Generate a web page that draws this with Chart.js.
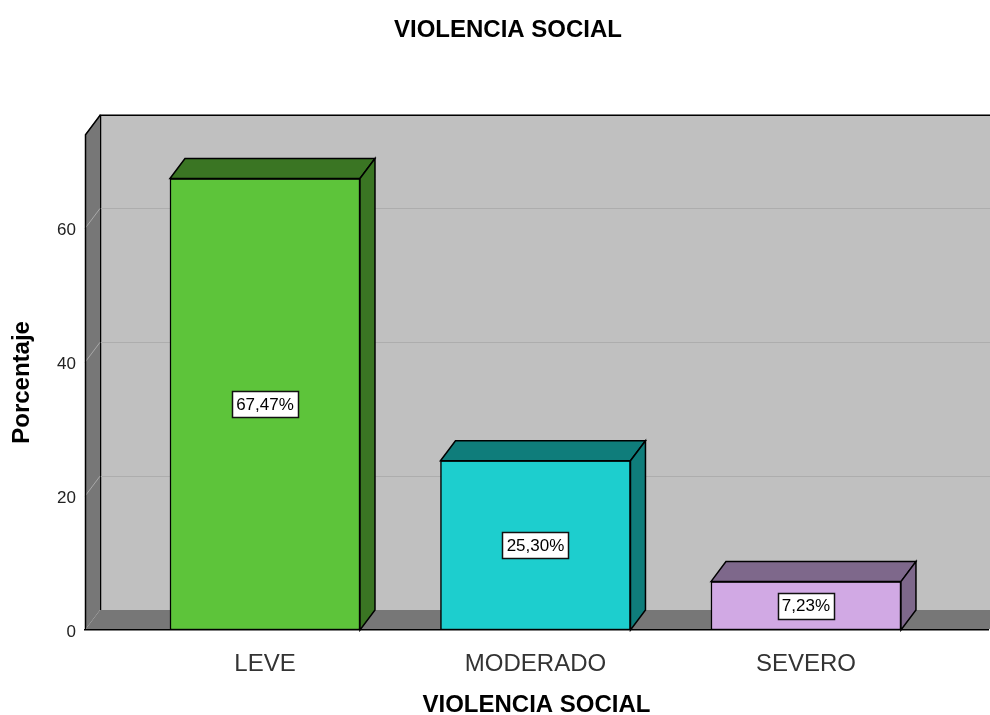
<!DOCTYPE html>
<html>
<head>
<meta charset="utf-8">
<script src="https://cdn.jsdelivr.net/npm/chart.js@4/dist/chart.umd.min.js"></script>
<style>
  html, body { margin: 0; padding: 0; background: #fff; }
  #wrap { width: 990px; height: 715px; }
</style>
</head>
<body>
<div id="wrap"><canvas id="myChart" width="990" height="715"></canvas></div>
<script>
const categories = ['LEVE', 'MODERADO', 'SEVERO'];
const percentages = [67.47, 25.30, 7.23];
const yTicks = [0, 20, 40, 60];

const frontColors = ['#5dc43a', '#1dcece', '#d1a9e4'];
const sideColors = ['#3a7523', '#0f7d7b', '#7e688b'];

// depth of the fake 3D box
const DX = 15, DY = -20;

function fmt(v) {
    return v.toFixed(2).replace('.', ',') + '%';
}

const box3d = {
    id: 'box3d',
    beforeDraw(chart) {
        const ctx = chart.ctx;
        const a = chart.chartArea;
        const y = chart.scales.y;
        ctx.save();
        ctx.fillStyle = '#fff';
        ctx.fillRect(0, 0, chart.width, chart.height);

        // back wall
        ctx.fillStyle = '#c0c0c0';
        ctx.fillRect(a.left + DX, a.top + DY, a.right - a.left + 20, a.bottom - a.top);
        ctx.strokeStyle = '#000';
        ctx.lineWidth = 1.5;
        ctx.beginPath();
        ctx.moveTo(a.left + DX + 0.5, a.bottom + DY);
        ctx.lineTo(a.left + DX + 0.5, a.top + DY + 0.5);
        ctx.lineTo(a.right + DX + 20, a.top + DY + 0.5);
        ctx.stroke();

        // grid lines
        ctx.lineWidth = 1;
        yTicks.forEach(t => {
            if (t === 0) return;
            const py = Math.round(y.getPixelForValue(t)) + 0.5;
            ctx.strokeStyle = '#adadad';
            ctx.beginPath();
            ctx.moveTo(a.left + DX + 1, py + DY);
            ctx.lineTo(a.right + DX + 20, py + DY);
            ctx.stroke();
        });

        // left wall
        ctx.fillStyle = '#777777';
        ctx.beginPath();
        ctx.moveTo(a.left, a.top);
        ctx.lineTo(a.left + DX, a.top + DY);
        ctx.lineTo(a.left + DX, a.bottom + DY);
        ctx.lineTo(a.left, a.bottom);
        ctx.closePath();
        ctx.fill();
        yTicks.forEach(t => {
            if (t === 0) return;
            const py = y.getPixelForValue(t);
            ctx.strokeStyle = '#a8a8a8';
            ctx.beginPath();
            ctx.moveTo(a.left, py);
            ctx.lineTo(a.left + DX, py + DY);
            ctx.stroke();
        });
        ctx.strokeStyle = '#000';
        ctx.lineWidth = 1.5;
        ctx.beginPath();
        ctx.moveTo(a.left + 0.5, a.bottom);
        ctx.lineTo(a.left + 0.5, a.top);
        ctx.lineTo(a.left + DX + 0.5, a.top + DY);
        ctx.stroke();

        // floor
        ctx.fillStyle = '#777777';
        ctx.beginPath();
        ctx.moveTo(a.left, a.bottom);
        ctx.lineTo(a.left + DX, a.bottom + DY);
        ctx.lineTo(a.right + DX + 20, a.bottom + DY);
        ctx.lineTo(a.right, a.bottom);
        ctx.closePath();
        ctx.fill();
        ctx.restore();
    },
    afterDatasetsDraw(chart) {
        const ctx = chart.ctx;
        const meta = chart.getDatasetMeta(0);
        ctx.save();
        meta.data.forEach((bar, i) => {
            const l = bar.x - bar.width / 2, r = bar.x + bar.width / 2;
            const t = bar.y, b = bar.base;
            ctx.lineWidth = 1.5;
            ctx.strokeStyle = '#000';
            ctx.fillStyle = sideColors[i];
            // top face
            ctx.beginPath();
            ctx.moveTo(l, t);
            ctx.lineTo(l + DX, t + DY);
            ctx.lineTo(r + DX, t + DY);
            ctx.lineTo(r, t);
            ctx.closePath();
            ctx.fill();
            ctx.stroke();
            // side face
            ctx.beginPath();
            ctx.moveTo(r, t);
            ctx.lineTo(r + DX, t + DY);
            ctx.lineTo(r + DX, b + DY);
            ctx.lineTo(r, b);
            ctx.closePath();
            ctx.fill();
            ctx.stroke();

            // value label
            const txt = fmt(percentages[i]);
            ctx.font = '17px "Liberation Sans", Arial, sans-serif';
            const w = Math.round(ctx.measureText(txt).width + 8);
            const h = 26;
            const cy = (t + b) / 2;
            const bx = Math.round(bar.x - w / 2) + 0.5, by = Math.round(cy - h / 2) + 0.5;
            ctx.fillStyle = '#fff';
            ctx.fillRect(bx, by, w, h);
            ctx.lineWidth = 1.5;
            ctx.strokeStyle = '#111';
            ctx.strokeRect(bx, by, w, h);
            ctx.fillStyle = '#000';
            ctx.textAlign = 'center';
            ctx.textBaseline = 'middle';
            ctx.fillText(txt, bar.x, cy + 1);
        });
        ctx.restore();
    }
};

new Chart(document.getElementById('myChart'), {
    type: 'bar',
    data: {
        datasets: [{
            data: percentages.map((v, i) => ({ x: i, y: v })),
            backgroundColor: frontColors,
            borderColor: '#000',
            borderWidth: 1.5,
            borderSkipped: false,
            barThickness: 190
        }]
    },
    plugins: [box3d],
    options: {
        responsive: false,
        animation: false,
        layout: { padding: { left: 28, right: 2, top: 0, bottom: 0 } },
        plugins: {
            legend: { display: false },
            tooltip: { enabled: false },
            title: {
                display: true,
                text: 'VIOLENCIA SOCIAL',
                color: '#000',
                font: { family: '"Liberation Sans", Arial, sans-serif', size: 24, weight: 'bold', lineHeight: 1.2 },
                padding: { top: 16, bottom: 90 }
            }
        },
        scales: {
            x: {
                type: 'linear',
                min: -0.6654,
                max: 2.673,
                offset: false,
                bounds: 'data',
                grid: { display: false },
                border: { display: true, color: '#000', width: 1.5 },
                afterBuildTicks: s => { s.ticks = categories.map((c, i) => ({ value: i })); },
                afterFit: s => { s.height = 85; },
                ticks: {
                    autoSkip: false,
                    maxRotation: 0,
                    padding: 12,
                    color: '#333',
                    font: { family: '"Liberation Sans", Arial, sans-serif', size: 24 },
                    callback: v => categories[v]
                },
                title: {
                    display: true,
                    text: 'VIOLENCIA SOCIAL',
                    color: '#000',
                    padding: -2,
                    font: { family: '"Liberation Sans", Arial, sans-serif', size: 24, weight: 'bold', lineHeight: 1 }
                }
            },
            y: {
                min: 0,
                max: 74,
                grid: { display: false, drawTicks: false },
                border: { display: false },
                afterBuildTicks: s => { s.ticks = yTicks.map(v => ({ value: v })); },
                afterFit: s => { s.width = 57; },
                ticks: {
                    padding: 9,
                    labelOffset: 2,
                    color: '#222',
                    font: { family: '"Liberation Sans", Arial, sans-serif', size: 17 }
                },
                title: {
                    display: true,
                    text: 'Porcentaje',
                    color: '#000',
                    padding: -18,
                    font: { family: '"Liberation Sans", Arial, sans-serif', size: 24, weight: 'bold', lineHeight: 1 }
                }
            }
        }
    }
});
</script>
</body>
</html>
